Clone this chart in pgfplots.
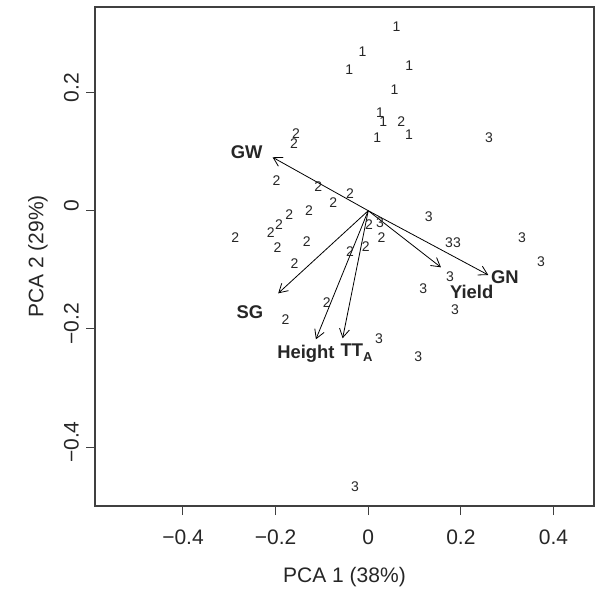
\documentclass[border=0pt]{standalone}
\usepackage{fontspec}
\setmainfont{Liberation Sans}
\usepackage{pgfplots}
\pgfplotsset{compat=1.18}
\usetikzlibrary{arrows.meta,calc}

\pgfplotsset{
  grp/.style={only marks, mark=text, text mark={#1}, text mark as node=true,
    text mark style={font=\fontsize{7}{8}\selectfont, inner sep=0pt, text=black!85}},
  load/.style={black, line width=0.4pt, -{Straight Barb[length=4.3pt,width=5pt]}},
}

\begin{document}
\begin{tikzpicture}
\begin{axis}[
  scale only axis, width=249.5pt, height=249.5pt,
  xmin=-0.59, xmax=0.4875, ymin=-0.4997, ymax=0.3447,
  xtick pos=left, ytick pos=left, tick align=outside,
  major tick length=4.5pt,
  xtick={-0.4,-0.2,0,0.2,0.4}, xticklabels={−0.4,−0.2,0,0.2,0.4},
  ytick={-0.4,-0.2,0,0.2}, yticklabels={−0.4,−0.2,0,0.2},
  xticklabel style={yshift=-4pt},
  yticklabel style={rotate=90, anchor=south, xshift=2.5pt},
  tick label style={font=\fontsize{10.5}{12}\selectfont, text=black!85},
  label style={font=\fontsize{10.5}{12}\selectfont, text=black!85},
  xlabel={PCA 1 (38\%)}, ylabel={PCA 2 (29\%)},
  xlabel style={at={(axis description cs:0.5,0)}, anchor=center, yshift=-35.5pt},
  ylabel style={at={(axis description cs:0,0.5)}, anchor=center, yshift=28.5pt},
  axis line style={line width=0.6pt, black!75},
  tick style={line width=0.5pt, black!75},
  clip=false,
]
% group 1
\addplot[grp=1] coordinates {
  (0.0613,0.3122) (-0.0121,0.2690) (-0.0410,0.2381) (0.0886,0.2452)
  (0.0570,0.2054) (0.0253,0.1658) (0.0324,0.1506) (0.0879,0.1281)
  (0.0194,0.1235)};
% group 2
\addplot[grp=2] coordinates {
  (0.0713,0.1506) (-0.1562,0.1310) (-0.1605,0.1140) (-0.1978,0.0508)
  (-0.1080,0.0406) (-0.0395,0.0283) (-0.0756,0.0135) (-0.1706,-0.0073)
  (-0.1281,-0.0005) (-0.1929,-0.0242) (-0.2102,-0.0372) (-0.2873,-0.0450)
  (-0.1957,-0.0626) (-0.1330,-0.0525) (-0.1590,-0.0890) (0.0015,-0.0242)
  (0.0289,-0.0457) (-0.0395,-0.0694) (-0.0056,-0.0609) (-0.0898,-0.1557)
  (-0.1784,-0.1849)};
% group 3
\addplot[grp=3] coordinates {
  (0.2607,0.1235) (0.0253,-0.0203) (0.1305,-0.0102) (0.1743,-0.0547)
  (0.1916,-0.0547) (0.3320,-0.0462) (0.3730,-0.0868) (0.1765,-0.1117)
  (0.1188,-0.1313) (0.1873,-0.1680) (0.0231,-0.2159) (0.1080,-0.2470)
  (-0.0287,-0.4675)};
% loadings
\addplot[load] coordinates {(0,0) (-0.2065,0.0904)};
\addplot[load] coordinates {(0,0) (-0.1944,-0.1398)};
\addplot[load] coordinates {(0,0) (-0.1130,-0.2176)};
\addplot[load] coordinates {(0,0) (-0.0553,-0.2159)};
\addplot[load] coordinates {(0,0) (0.1570,-0.0958)};
\addplot[load] coordinates {(0,0) (0.2592,-0.1088)};
\begin{scope}[every node/.style={font=\bfseries\fontsize{9.2}{10}\selectfont, text=black!85, inner sep=0pt}]
\node at (axis cs:-0.2626,0.0998) {GW};
\node at (axis cs:-0.2555,-0.1709) {SG};
\node at (axis cs:-0.1346,-0.2425) {Height};
\node at (axis cs:-0.0251,-0.2403) {TT\raisebox{-0.45ex}{\fontsize{6.5}{7}\selectfont A}};
\node at (axis cs:0.2233,-0.1381) {Yield};
\node at (axis cs:0.2952,-0.1117) {GN};
\end{scope}
\end{axis}
\pgfresetboundingbox
\path[use as bounding box] ($(current axis.south west)+(-47.5pt,-41pt)$) rectangle ($(current axis.north east)+(1.5pt,3.5pt)$);
\end{tikzpicture}
\end{document}
